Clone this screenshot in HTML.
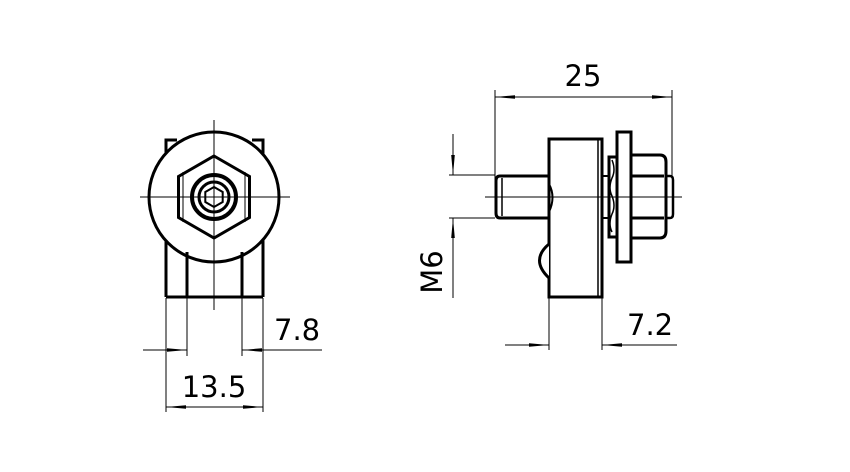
<!DOCTYPE html>
<html><head><style>body{margin:0;background:#fff}svg{display:block}</style></head>
<body>
<svg width="850" height="472" viewBox="0 0 850 472" xmlns="http://www.w3.org/2000/svg">
<defs>
<marker id="a" viewBox="0 0 20 6" refX="20" refY="3" markerWidth="20" markerHeight="6" markerUnits="userSpaceOnUse" orient="auto-start-reverse"><path d="M0,1.2 L20,3 L0,4.8Z" fill="#000"/></marker>
</defs>
<g fill="none" stroke="#000">
<!-- LEFT VIEW -->
<g stroke-width="3">
<path d="M166,297 V140 H177 M263,297 V140 H252"/>
<path d="M166,297 H263"/>
<circle cx="214" cy="197" r="65" fill="#fff"/>
<path d="M214,156 L249.5,176.5 L249.5,217.5 L214,238 L178.5,217.5 L178.5,176.5Z" fill="#fff"/>
<circle cx="214" cy="197" r="22" stroke-width="4"/>
<circle cx="214" cy="197" r="15"/>
<path d="M214,187 L222.7,192 L222.7,202 L214,207 L205.3,202 L205.3,192Z" stroke-width="2"/>
<path d="M187,252 V297 M242,252 V297"/>
</g>
<path d="M183,172 v50 M245,172 v50" stroke-width="1"/>
<path d="M140,197 H290 M214,120 V310" stroke-width="1"/>
<path d="M166,298 V412 M187,298 V356 M242,298 V356 M263,298 V412" stroke-width="1"/>
<path d="M143,350 H187" stroke-width="1" marker-end="url(#a)"/>
<path d="M322,350 H242" stroke-width="1" marker-end="url(#a)"/>
<path d="M166,407 H263" stroke-width="1" marker-start="url(#a)" marker-end="url(#a)"/>
<!-- RIGHT VIEW -->
<g stroke-width="3">
<path d="M549,176 H500 Q496,176 496,181 V213 Q496,218 500,218 H549"/>
<path d="M502,178 V216" stroke-width="1.5"/>
<rect x="549" y="139" width="53" height="158" fill="#fff"/>
<path d="M549,184 Q556,197 549,212" stroke-width="2"/>
<path d="M549,244 Q530,260 549,278" fill="#fff"/>
<path d="M598,139 V297" stroke-width="1.5"/>
<path d="M602,176 H609 M602,218 H609" stroke-width="2"/>
<path d="M609,157 H617 V237 H609Z" fill="#fff"/>
<path d="M612,160 q4,10 0,18 q-4,10 0,18 q4,10 0,18 q-4,10 0,18" stroke-width="1.5"/>
<rect x="617" y="132" width="14" height="130" fill="#fff"/>
<path d="M631,155 H660 Q666,155 666,162 V231 Q666,238 660,238 H631Z" fill="#fff"/>
<path d="M631,176 H664 M631,218 H664"/>
<path d="M666,176 H670 Q673,176 673,180 V214 Q673,218 670,218 H666" stroke-width="2.5"/>
</g>
<path d="M485,197 H682" stroke-width="1"/>
<path d="M495,180 V90 M672,178 V90" stroke-width="1"/>
<path d="M495,97 H672" stroke-width="1" marker-start="url(#a)" marker-end="url(#a)"/>
<path d="M449,175 H495 M449,218 H495" stroke-width="1"/>
<path d="M453,134 V175" stroke-width="1" marker-end="url(#a)"/>
<path d="M453,298 V218" stroke-width="1" marker-end="url(#a)"/>
<path d="M549,298 V350 M602,298 V350" stroke-width="1"/>
<path d="M505,345 H549" stroke-width="1" marker-end="url(#a)"/>
<path d="M677,345 H602" stroke-width="1" marker-end="url(#a)"/>
</g>
<g font-family="'DejaVu Sans','Liberation Sans',sans-serif" font-size="29" fill="#000">
<text x="274" y="340">7.8</text>
<text x="214" y="397" text-anchor="middle">13.5</text>
<text x="583" y="86" text-anchor="middle">25</text>
<text x="627" y="335">7.2</text>
<text transform="translate(442,272) rotate(-90)" text-anchor="middle">M6</text>
</g>
</svg>
</body></html>
